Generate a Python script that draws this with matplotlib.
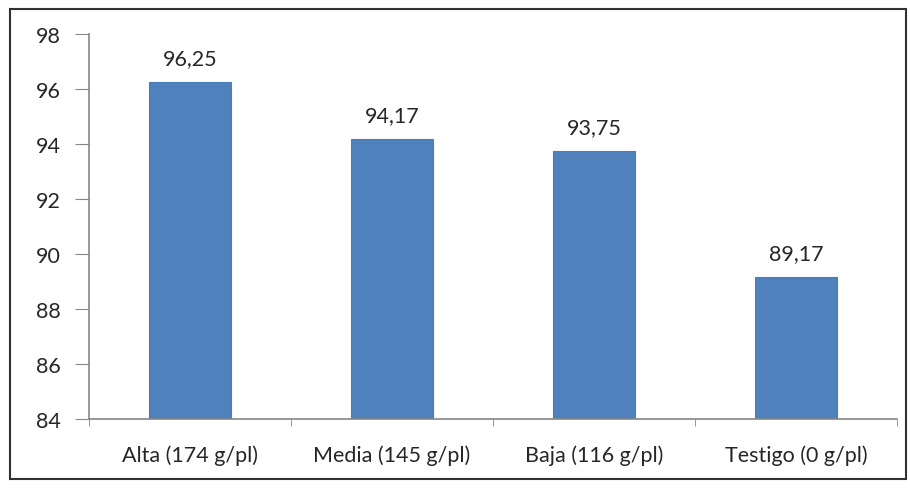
import matplotlib.pyplot as plt
from matplotlib.patches import Rectangle

categorias = ["Alta (174 g/pl)", "Media (145 g/pl)", "Baja (116 g/pl)", "Testigo (0 g/pl)"]
valores = [96.25, 94.17, 93.75, 89.17]
etiquetas = ["96,25", "94,17", "93,75", "89,17"]
y_ticks = [84, 86, 88, 90, 92, 94, 96, 98]

plt.rcParams['font.family'] = ['Lato', 'DejaVu Sans']

fig = plt.figure(figsize=(9.1, 4.89), dpi=100)
fig.patch.set_facecolor("white")

# marco exterior
fig.patches.append(Rectangle((10 / 910, 9 / 489), 896 / 910, 470 / 489,
                             transform=fig.transFigure, fill=False,
                             edgecolor="#303030", linewidth=1.5))

ax = fig.add_axes([89 / 910, 1 - 420 / 489, 808 / 910, 385 / 489])
x = range(len(categorias))
ax.bar(x, valores, width=0.41, color="#4F81BD", edgecolor="#4A7EBB", linewidth=0.8)

for xi, v, t in zip(x, valores, etiquetas):
    ax.text(xi, v + 0.5, t, ha="center", va="bottom", fontsize=15.5, color="#262626")

ax.set_ylim(84, 98)
ax.set_xlim(-0.5, len(categorias) - 0.5)
ax.set_yticks(y_ticks)
ax.set_yticklabels([str(t) for t in y_ticks], fontsize=15.5, color="#262626")

ax.set_xticks(list(x))
ax.set_xticklabels(categorias, fontsize=15.5, color="#262626")
ax.tick_params(axis="x", length=0, pad=18)
ax.tick_params(axis="y", length=10, color="#868686", pad=10)

# marcas entre categorias
ax.set_xticks([i - 0.5 for i in range(len(categorias) + 1)], minor=True)
ax.tick_params(axis="x", which="minor", length=5, color="#868686")

for s in ["top", "right"]:
    ax.spines[s].set_visible(False)
for s in ["left", "bottom"]:
    ax.spines[s].set_color("#868686")
    ax.spines[s].set_linewidth(1.2)

fig.savefig("out.png", dpi=100, facecolor="white")
